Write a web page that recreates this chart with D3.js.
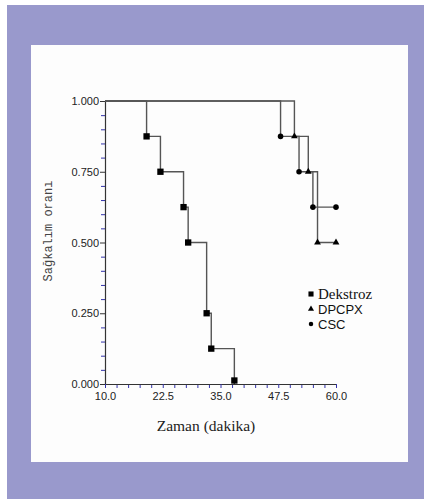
<!DOCTYPE html>
<html>
<head>
<meta charset="utf-8">
<script src="https://cdn.jsdelivr.net/npm/d3@7"></script>
<style>
  html, body { margin: 0; padding: 0; background: #fff; }
</style>
</head>
<body>
<div id="chart"></div>
<script>
// Kaplan-Meier style survival steps
const dekstrozTime = [10, 19, 22, 27, 28, 32, 33, 38]
const dekstrozValue = [1, 0.875, 0.75, 0.625, 0.5, 0.25, 0.125, 0]
const dpcpxTime = [10, 51, 54, 56, 60]
const dpcpxValue = [1, 0.875, 0.75, 0.5, 0.5]
const cscTime = [10, 48, 52, 55, 60]
const cscValue = [1, 0.875, 0.75, 0.625, 0.625]

const seriesNames = ['Dekstroz', 'DPCPX', 'CSC']
const yTicks = [0, 0.25, 0.5, 0.75, 1]
const xTicks = [10, 22.5, 35, 47.5, 60]

const width = 424
const height = 499

const svg = d3.select('#chart')
  .append('svg')
    .attr('width', width)
    .attr('height', height)

// purple frame and white panel
svg.append('rect')
  .attr('x', 7).attr('y', 5)
  .attr('width', width - 7).attr('height', height - 5)
  .attr('fill', '#9999cc')
svg.append('rect')
  .attr('x', 31).attr('y', 45)
  .attr('width', 377).attr('height', 417)
  .attr('fill', '#fdfdfd')

const x = d3.scaleLinear().domain([10, 60]).range([105, 336])
const y = d3.scaleLinear().domain([0, 1]).range([384, 101])

const minorY = d3.range(0, 1.0001, 0.05).filter(v => !yTicks.some(t => Math.abs(t - v) < 1e-6))
const minorX = d3.range(10, 60.0001, 2.5).filter(v => !xTicks.some(t => Math.abs(t - v) < 1e-6))

// minor ticks (blue)
const gMinorY = svg.append('g')
  .attr('transform', 'translate(' + x(10) + ',0)')
  .call(d3.axisLeft(y).tickValues(minorY).tickSize(4).tickFormat(''))
gMinorY.select('.domain').remove()
gMinorY.selectAll('line').attr('stroke', '#3333aa')

const gMinorX = svg.append('g')
  .attr('transform', 'translate(0,' + y(0) + ')')
  .call(d3.axisBottom(x).tickValues(minorX).tickSize(4).tickFormat(''))
gMinorX.select('.domain').remove()
gMinorX.selectAll('line').attr('stroke', '#3333aa')

// major axes
const yAxis = svg.append('g')
  .attr('transform', 'translate(' + x(10) + ',0)')
  .call(d3.axisLeft(y).tickValues(yTicks).tickSize(5).tickSizeOuter(0).tickFormat(d3.format('.3f')))
const xAxis = svg.append('g')
  .attr('transform', 'translate(0,' + y(0) + ')')
  .call(d3.axisBottom(x).tickValues(xTicks).tickSize(4).tickSizeOuter(0).tickFormat(d3.format('.1f')))

;[yAxis, xAxis].forEach(function(a) {
  a.select('.domain').attr('stroke', '#333').attr('stroke-width', 1.2)
  a.selectAll('.tick text')
    .attr('font-family', 'Liberation Sans, Arial, sans-serif')
    .attr('font-size', 11)
    .attr('fill', '#222')
})
yAxis.selectAll('.tick line').attr('stroke', '#333')
yAxis.selectAll('.tick text').attr('x', -6)
xAxis.selectAll('.tick line').attr('stroke', '#3333aa')
xAxis.selectAll('.tick text').attr('y', 8)

// axis titles
svg.append('text')
  .attr('transform', 'translate(52,231) rotate(-90)')
  .attr('text-anchor', 'middle')
  .attr('font-family', 'Liberation Mono, Courier New, monospace')
  .attr('font-size', 12)
  .attr('fill', '#444')
  .text('Sağkalım oranı')

svg.append('text')
  .attr('x', 206).attr('y', 431)
  .attr('text-anchor', 'middle')
  .attr('font-family', 'Liberation Serif, Times New Roman, serif')
  .attr('font-size', 15.5)
  .attr('fill', '#222')
  .text('Zaman (dakika)')

// step curves
const series = [
  {name: 'Dekstroz', time: dekstrozTime, value: dekstrozValue, shape: d3.symbolSquare, size: 40},
  {name: 'DPCPX', time: dpcpxTime, value: dpcpxValue, shape: d3.symbolTriangle, size: 20},
  {name: 'CSC', time: cscTime, value: cscValue, shape: d3.symbolCircle, size: 24}
]

const line = d3.line()
  .x(d => x(d[0]))
  .y(d => y(d[1]))
  .curve(d3.curveStepAfter)

series.forEach(function(s) {
  const pts = s.time.map((t, i) => [t, s.value[i]])
  svg.append('path')
    .datum(pts)
    .attr('fill', 'none')
    .attr('stroke', '#555')
    .attr('stroke-width', 1.4)
    .attr('d', line)
})

series.forEach(function(s) {
  const pts = s.time.map((t, i) => [t, s.value[i]]).slice(1)
  svg.append('g').selectAll('path')
    .data(pts)
    .join('path')
      .attr('d', d3.symbol().type(s.shape).size(s.size))
      .attr('transform', d => 'translate(' + x(d[0]) + ',' + Math.min(y(d[1]), y(0) - 3.5) + ')')
      .attr('fill', '#000')
})

// legend
const legendFonts = ['Liberation Serif, Times New Roman, serif', 'Liberation Sans, Arial, sans-serif', 'Liberation Sans, Arial, sans-serif']
const legendSizes = [15, 13, 13]
const legend = svg.append('g')
series.forEach(function(s, i) {
  const ly = 294 + i * 15
  legend.append('path')
    .attr('d', d3.symbol().type(s.shape).size(i === 0 ? 26 : (i === 1 ? 16 : 16)))
    .attr('transform', 'translate(311,' + ly + ')')
    .attr('fill', '#000')
  legend.append('text')
    .attr('x', 318).attr('y', ly + 4.5)
    .attr('font-family', legendFonts[i])
    .attr('font-size', legendSizes[i])
    .attr('fill', '#111')
    .text(seriesNames[i])
})
</script>
</body>
</html>
